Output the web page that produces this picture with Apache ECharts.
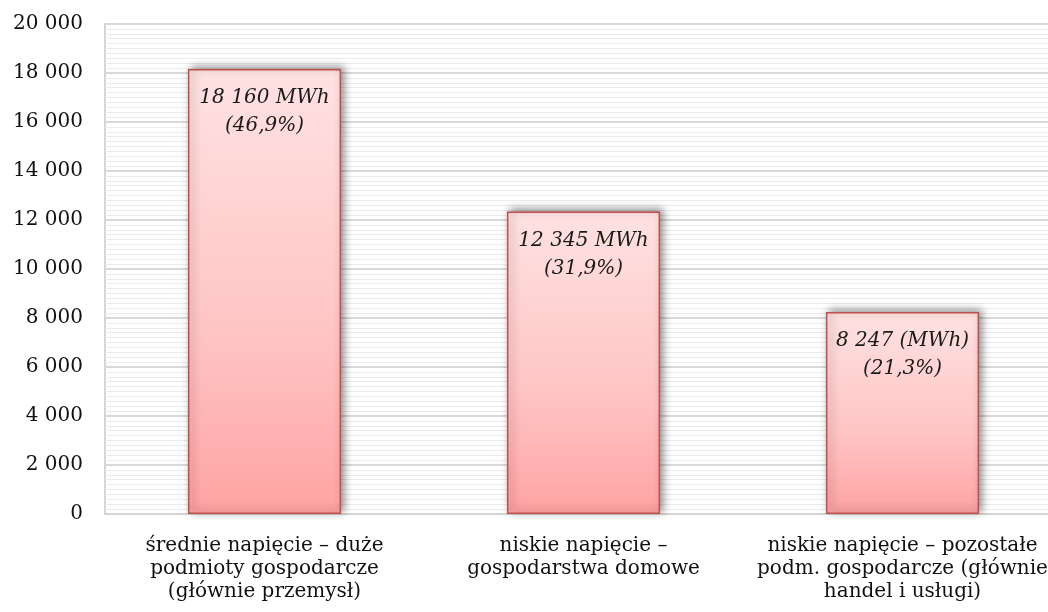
<!DOCTYPE html>
<html>
<head>
<meta charset="utf-8">
<script src="https://cdn.jsdelivr.net/npm/echarts@6/dist/echarts.min.js"></script>
<style>
  html, body { margin: 0; padding: 0; background: #fff; }
  #chart { width: 1048px; height: 612px; }
</style>
</head>
<body>
<div id="chart"></div>
<script>
// Energy consumption by customer group
const categories = [
  'średnie napięcie – duże\npodmioty gospodarcze\n(głównie przemysł)',
  'niskie napięcie –\ngospodarstwa domowe',
  'niskie napięcie – pozostałe\npodm. gospodarcze (głównie\nhandel i usługi)'
];
const energyMWh = [18160, 12345, 8247];
const unitText = ['MWh', 'MWh', '(MWh)'];
const yTicks = [0, 2000, 4000, 6000, 8000, 10000, 12000, 14000, 16000, 18000, 20000];

const serif = '"DejaVu Serif", "Liberation Serif", serif';
const total = energyMWh.reduce((a, b) => a + b, 0);

function fmtThousands(v) {
  return String(v).replace(/\B(?=(\d{3})+(?!\d))/g, ' ');
}
function fmtPct(v) {
  return (v / total * 100).toFixed(1).replace('.', ',') + '%';
}

const chart = echarts.init(document.getElementById('chart'), null, { renderer: 'canvas' });

chart.setOption({
  animation: false,
  backgroundColor: '#ffffff',
  grid: {
    left: 105, right: -14, top: 24, bottom: 98,
    outerBoundsMode: 'none',
    show: true, borderColor: '#d4d4d4', borderWidth: 2, backgroundColor: 'transparent'
  },
  xAxis: {
    type: 'category',
    data: categories,
    axisLine: { show: true, lineStyle: { color: '#d4d4d4', width: 2 } },
    axisTick: { show: false },
    axisLabel: {
      interval: 0, margin: 20, color: '#111', fontFamily: serif, fontSize: 20, lineHeight: 23
    }
  },
  yAxis: {
    type: 'value',
    min: yTicks[0], max: yTicks[yTicks.length - 1], interval: yTicks[1] - yTicks[0],
    axisLine: { show: false },
    axisTick: { show: false },
    axisLabel: {
      margin: 22, color: '#111', fontFamily: serif, fontSize: 20,
      formatter: v => fmtThousands(v)
    },
    splitLine: { show: true, lineStyle: { color: '#d9d9d9', width: 2 } },
    minorTick: { show: false, splitNumber: 10 },
    minorSplitLine: { show: true, lineStyle: { color: '#ebebeb', width: 1 } }
  },
  series: [{
    type: 'bar',
    data: energyMWh,
    barWidth: '48%',
    itemStyle: {
      color: new echarts.graphic.LinearGradient(0, 0, 0, 1, [
        { offset: 0, color: '#ffe2e2' },
        { offset: 0.6, color: '#ffc4c4' },
        { offset: 1, color: '#ffa3a3' }
      ]),
      borderColor: '#c0504d',
      borderWidth: 1.5,
      shadowColor: 'rgba(0,0,0,0.45)',
      shadowBlur: 8,
      shadowOffsetX: 3,
      shadowOffsetY: -2
    },
    label: {
      show: true,
      position: 'insideTop',
      distance: 15,
      color: '#1a1a1a',
      fontFamily: serif,
      fontStyle: 'italic',
      fontSize: 20,
      lineHeight: 28,
      formatter: p => fmtThousands(p.value) + ' ' + unitText[p.dataIndex] + '\n(' + fmtPct(p.value) + ')'
    }
  }]
});
</script>
</body>
</html>
